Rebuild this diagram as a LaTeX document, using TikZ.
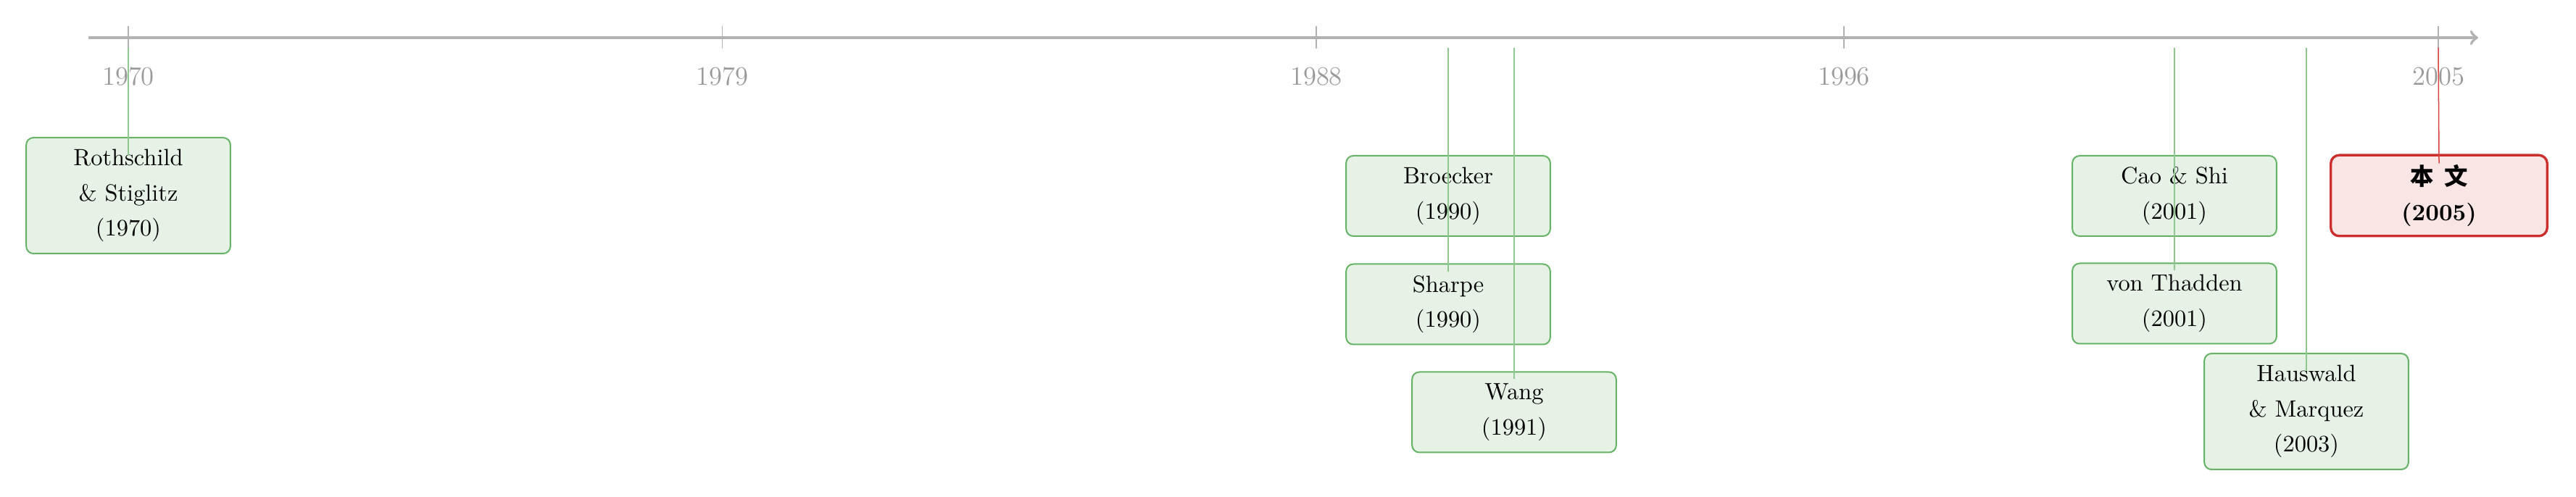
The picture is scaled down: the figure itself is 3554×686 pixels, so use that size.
\documentclass[tikz,border=0pt]{standalone}
\usepackage{fontspec}
\newfontfamily\cjk{Noto Sans CJK SC}
\definecolor{gfill}{rgb}{0.9,0.95,0.9}
\definecolor{gbord}{rgb}{0.4,0.7,0.4}
\definecolor{glink}{rgb}{0.56,0.78,0.56}
\definecolor{rfill}{rgb}{0.98,0.9,0.9}
\definecolor{rbord}{rgb}{0.8,0.18,0.18}
\definecolor{rlink}{rgb}{0.86,0.25,0.25}
\tikzset{
  axisline/.style={draw=gray!60, line width=1.2pt, ->},
  tickmark/.style={draw=gray!60, line width=0.45pt},
  yearlab/.style={text=gray!80, font=\fontsize{11}{13}\selectfont, anchor=base, inner sep=0pt},
  paper/.style={draw=gbord, fill=gfill, rounded corners=3pt, line width=0.6pt,
    minimum width=84.5pt, minimum height=33.3pt, align=center, inner sep=0pt,
    font=\fontsize{9.73}{14.6}\selectfont},
  paperthree/.style={paper, minimum height=48pt},
  ours/.style={draw=rbord, fill=rfill, rounded corners=3.5pt, line width=1pt,
    minimum width=89.6pt, minimum height=33.5pt, align=center, inner sep=0pt,
    font=\fontsize{9.73}{14.6}\selectfont\bfseries},
  link/.style={draw=glink, line width=0.45pt},
  redlink/.style={draw=rlink, line width=0.45pt}
}
\begin{document}
\begin{tikzpicture}[x=0.3pt,y=-0.3pt]
\useasboundingbox (0,0) rectangle (3554,686);
% axis
\coordinate (axs) at (122,52);
\coordinate (axe) at (3419,52);
\draw[axisline] (axs) -- (axe);
% ticks and labels
\foreach \x/\yr in {177/1970, 996.5/1979, 1816/1988, 2544/1996, 3364/2005}{
  \draw[tickmark] (\x,36) -- (\x,67);
  \node[yearlab] (lab\yr) at (\x,118) {\yr};
}
% boxes
\node[paperthree] (rs) at (177,270) {Rothschild\\\& Stiglitz\\(1970)};
\node[paper] (br) at (1998,270.5) {Broecker\\(1990)};
\node[paper] (sh) at (1998,420) {Sharpe\\(1990)};
\node[paper] (wa) at (2089,569) {Wang\\(1991)};
\node[paper] (cs) at (3000,270.5) {Cao \& Shi\\(2001)};
\node[paper] (vt) at (3000,419) {von Thadden\\(2001)};
\node[paperthree] (hm) at (3182,568) {Hauswald\\\& Marquez\\(2003)};
\node[ours] (bw) at (3365,270) {{\cjk 本}\hspace{4.5pt}{\cjk 文}\\(2005)};
% connectors
\coordinate (c1970) at (177,66);
\coordinate (c1990) at (1998,66);
\coordinate (c1991) at (2089,66);
\coordinate (c2001) at (3000,66);
\coordinate (c2003) at (3182,66);
\coordinate (c2005) at (3364,66);
\draw[link] (c1970) -- ([yshift=-7.5pt]rs.north);
\draw[link] (c1990) -- ([yshift=-3.5pt]br.north);
\draw[link] (c1990) -- ([yshift=-3.5pt]sh.north);
\draw[link] (c1991) -- ([yshift=-3.3pt]wa.north);
\draw[link] (c2001) -- ([yshift=-3.3pt]cs.north);
\draw[link] (c2001) -- ([yshift=-3.3pt]vt.north);
\draw[link] (c2003) -- ([yshift=-7.5pt]hm.north);
\draw[redlink] (c2005) -- ([yshift=-3.9pt]bw.north);
\end{tikzpicture}
\end{document}
